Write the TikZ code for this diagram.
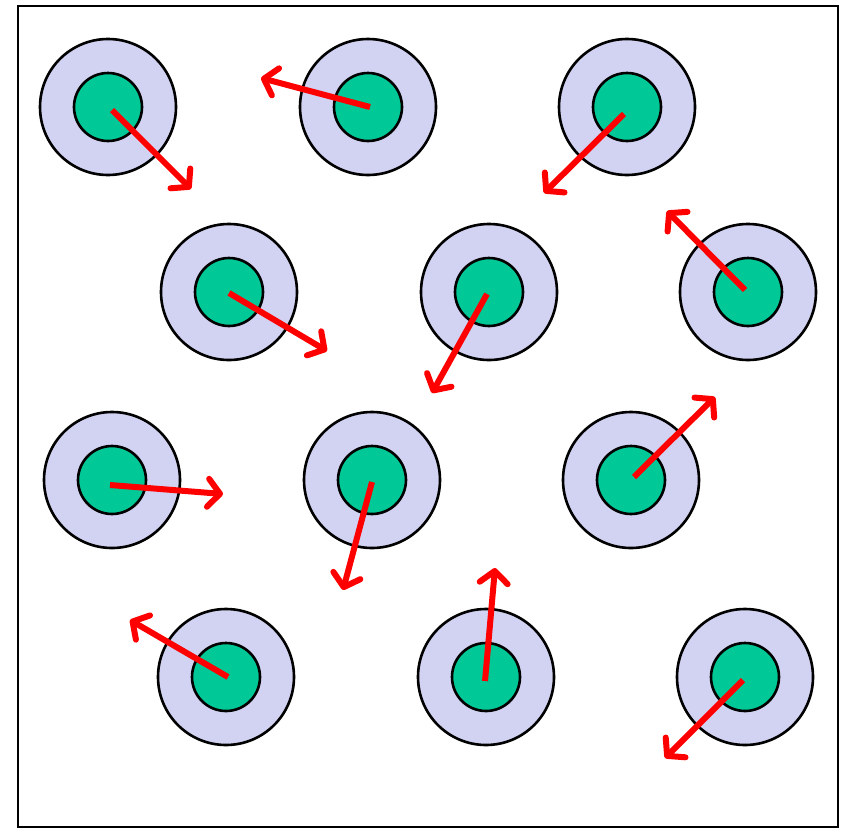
\documentclass[tikz,border=0pt]{standalone}
\usetikzlibrary{arrows.meta}
\definecolor{outerc}{RGB}{210,210,242}
\definecolor{innerc}{RGB}{0,201,151}
\tikzset{
  outer/.style={circle,draw=black,line width=2.6pt,fill=outerc,minimum size=136pt,inner sep=0pt},
  inner/.style={circle,draw=black,line width=2.6pt,fill=innerc,minimum size=68pt,inner sep=0pt},
  vec/.style={draw=red,line width=6pt,-{Straight Barb[length=12pt,width=28pt,line cap=round,line join=round]}}
}
\begin{document}
\begin{tikzpicture}[x=1pt,y=-1pt]
\useasboundingbox (0,0) rectangle (846,828);
\draw[line width=2pt] (18,6) rectangle (838,826.5);
% particles
\foreach \n/\x/\y in {a/108/107, b/368/107, c/627/107,
                      d/229/292, e/489/292, f/748/292,
                      g/112/480, h/372/480, i/631/480,
                      j/226/677, k/486/677, l/745/677}{
  \node[outer] (o\n) at (\x,\y) {};
  \node[inner] (\n) at (\x,\y) {};
}
% arrow end points
\coordinate (ta) at (191,189);
\coordinate (tb) at (261,78);
\coordinate (tc) at (544,193);
\coordinate (td) at (327,351);
\coordinate (te) at (432,393);
\coordinate (tf) at (667,211);
\coordinate (tg) at (223,494);
\coordinate (th) at (343,590);
\coordinate (ti) at (715,397);
\coordinate (tj) at (130,620);
\coordinate (tk) at (495,568);
\coordinate (tl) at (665,758);
\draw[vec] ([shift={(4,3)}]a.center) -- (ta);
\draw[vec] ([shift={(2,0)}]b.center) -- (tb);
\draw[vec] ([shift={(-3,7)}]c.center) -- (tc);
\draw[vec] ([shift={(0,1)}]d.center) -- (td);
\draw[vec] ([shift={(-2,2)}]e.center) -- (te);
\draw[vec] ([shift={(-3,-2)}]f.center) -- (tf);
\draw[vec] ([shift={(-2,5)}]g.center) -- (tg);
\draw[vec] ([shift={(0,2)}]h.center) -- (th);
\draw[vec] ([shift={(3,-3)}]i.center) -- (ti);
\draw[vec] ([shift={(2,0)}]j.center) -- (tj);
\draw[vec] ([shift={(-1,4)}]k.center) -- (tk);
\draw[vec] ([shift={(-2,3)}]l.center) -- (tl);
\end{tikzpicture}
\end{document}
